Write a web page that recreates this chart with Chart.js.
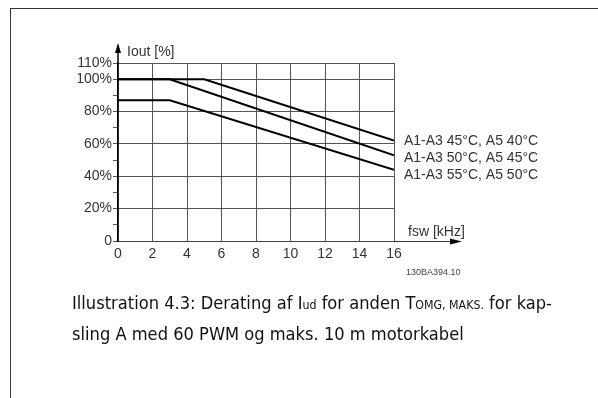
<!DOCTYPE html>
<html>
<head>
<meta charset="utf-8">
<script src="https://cdn.jsdelivr.net/npm/chart.js@4.4.1/dist/chart.umd.min.js"></script>
<style>
  html, body { margin: 0; padding: 0; background: #fff; }
  #page { position: relative; width: 598px; height: 398px; overflow: hidden; }
  #frame { position: absolute; left: 10px; top: 8px; right: -2px; bottom: -2px;
           border-top: 1px solid #333; border-left: 1px solid #333; }
  canvas { position: absolute; left: 0; top: 0; }
  .cap { position: absolute; left: 72px; white-space: nowrap; color: #111;
         font-family: "DejaVu Sans Condensed", "DejaVu Sans", sans-serif; font-size: 17px;
         line-height: 20px; transform-origin: 0 0; }
  .cap small { font-size: 11.5px; }
</style>
</head>
<body>
<div id="page">
  <div id="frame"></div>
  <canvas id="chart" width="598" height="398"></canvas>
  <div class="cap" id="cap1">Illustration 4.3: Derating af I<small>ud</small> for anden T<small>OMG, MAKS.</small> for kap-</div>
  <div class="cap" id="cap2">sling A med 60 PWM og maks. 10 m motorkabel</div>
</div>
<script>
// switching frequency (kHz) / output current (%) breakpoints per ambient rating
const freq45 = [0, 5, 16];
const iout45 = [100, 100, 62];
const freq50 = [0, 3, 16];
const iout50 = [100, 100, 53];
const freq55 = [0, 3, 16];
const iout55 = [87, 87, 44];

const seriesNames = [
  "A1-A3 45°C, A5 40°C",
  "A1-A3 50°C, A5 45°C",
  "A1-A3 55°C, A5 50°C"
];
const xTicks = [0, 2, 4, 6, 8, 10, 12, 14, 16];
const yLabelled = [0, 20, 40, 60, 80, 100, 110];

const FONT = "'Liberation Sans', Arial, sans-serif";
const toPoints = (xs, ys) => xs.map((x, i) => ({ x: x, y: ys[i] }));

// arrows, axis titles and the curve names
const annotations = {
  id: "annotations",
  afterDraw(chart) {
    const { ctx, chartArea, scales } = chart;
    const x0 = scales.x.getPixelForValue(0);
    const y0 = scales.y.getPixelForValue(0);
    ctx.save();
    ctx.strokeStyle = "#000";
    ctx.fillStyle = "#000";
    ctx.lineWidth = 1.5;

    // y axis arrow
    ctx.beginPath();
    ctx.moveTo(x0, chartArea.top);
    ctx.lineTo(x0, chartArea.top - 12);
    ctx.stroke();
    ctx.beginPath();
    ctx.moveTo(x0, chartArea.top - 20);
    ctx.lineTo(x0 - 3, chartArea.top - 10);
    ctx.lineTo(x0 + 3, chartArea.top - 10);
    ctx.closePath();
    ctx.fill();

    // x axis arrow
    ctx.lineWidth = 1;
    ctx.strokeStyle = "#333";
    ctx.beginPath();
    ctx.moveTo(chartArea.right, y0 + 0.5);
    ctx.lineTo(chartArea.right + 56, y0 + 0.5);
    ctx.stroke();
    ctx.beginPath();
    ctx.moveTo(chartArea.right + 68, y0 + 0.5);
    ctx.lineTo(chartArea.right + 56, y0 - 2.5);
    ctx.lineTo(chartArea.right + 56, y0 + 3.5);
    ctx.closePath();
    ctx.fill();

    ctx.fillStyle = "#333";
    ctx.font = "14px " + FONT;
    ctx.textBaseline = "alphabetic";
    ctx.textAlign = "left";
    ctx.fillText("Iout [%]", x0 + 9, chartArea.top - 7);
    ctx.fillText("fsw [kHz]", chartArea.right + 14, y0 - 5);

    // curve names beside the line ends
    const yFirst = scales.y.getPixelForValue(iout45[iout45.length - 1]);
    chart.data.datasets.forEach((ds, i) => {
      ctx.textBaseline = "middle";
      ctx.fillText(ds.label, chartArea.right + 10, yFirst + i * 17);
    });

    ctx.font = "9px " + FONT;
    ctx.fillStyle = "#444";
    ctx.textBaseline = "alphabetic";
    ctx.fillText("130BA394.10", chartArea.right + 12, y0 + 34);
    ctx.restore();
  }
};

const lineStyle = { borderColor: "#000", borderWidth: 2, pointRadius: 0, fill: false, tension: 0 };

new Chart(document.getElementById("chart"), {
  type: "line",
  data: {
    datasets: [
      { label: seriesNames[0], data: toPoints(freq45, iout45), ...lineStyle },
      { label: seriesNames[1], data: toPoints(freq50, iout50), ...lineStyle },
      { label: seriesNames[2], data: toPoints(freq55, iout55), ...lineStyle }
    ]
  },
  options: {
    responsive: false,
    animation: false,
    layout: { padding: { left: 78, right: 204, top: 63, bottom: 127 } },
    plugins: { legend: { display: false }, tooltip: { enabled: false } },
    scales: {
      x: {
        type: "linear",
        min: 0,
        max: 16,
        afterFit: (s) => { s.height = 30; },
        afterBuildTicks: (s) => { s.ticks = xTicks.map((v) => ({ value: v })); },
        grid: { color: "#555", lineWidth: 1, drawTicks: false },
        border: { color: "#444", width: 1 },
        ticks: { padding: 5, autoSkip: false, maxRotation: 0, color: "#333", font: { family: FONT, size: 14 } }
      },
      y: {
        min: 0,
        max: 110,
        afterFit: (s) => { s.width = 40; },
        ticks: {
          stepSize: 10,
          autoSkip: false,
          padding: 1,
          color: "#333",
          font: { family: FONT, size: 14 },
          callback: (v) => (yLabelled.includes(v) ? (v === 0 ? "0" : v + "%") : "")
        },
        grid: {
          color: (c) => (c.tick && c.tick.value !== 0 && yLabelled.includes(c.tick.value) ? "#555" : "rgba(0,0,0,0)"),
          tickColor: "#555",
          tickLength: 5,
          lineWidth: 1
        },
        border: { color: "#000", width: 1.5 }
      }
    }
  },
  plugins: [annotations]
});

// condense the caption lines to the column width
const c1 = document.getElementById("cap1");
const c2 = document.getElementById("cap2");
const k = 480 / c1.getBoundingClientRect().width;
c1.style.top = "293px";
c2.style.top = "324px";
c1.style.transform = "scaleX(" + k + ")";
c2.style.transform = "scaleX(" + k + ")";
</script>
</body>
</html>
